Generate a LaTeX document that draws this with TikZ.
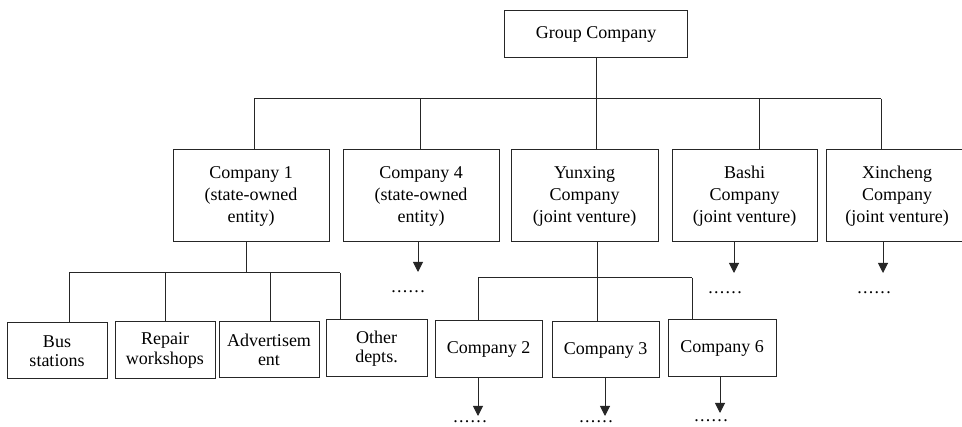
\documentclass[tikz,border=0pt]{standalone}
\usepackage{fontspec}
\setmainfont{Liberation Serif}
\usetikzlibrary{arrows.meta, positioning}

\newcommand{\sixdots}{.\kern1.3pt.\kern1.3pt.\kern1.3pt.\kern1.3pt.\kern1.3pt.}

\begin{document}
\begin{tikzpicture}[x=1pt, y=-1pt, line width=1pt, draw=black!85,
  unit/.style={rectangle, draw, inner sep=2pt, align=center, font=\fontsize{18}{22}\selectfont},
  small/.style={unit, font=\fontsize{18}{19.5}\selectfont},
  more/.style={inner sep=0pt, font=\fontsize{18}{22}\selectfont},
  down/.style={-{Triangle[width=10pt, length=10pt]}}]

\useasboundingbox (0,0) rectangle (962,427);

% top
\node[unit, minimum width=183pt, minimum height=47pt] (grp) at (596,34.5) {Group Company};

% second level
\node[unit, minimum width=156pt, minimum height=92pt] (c1) at (251,196) {Company 1\\(state-owned\\entity)};
\node[unit, minimum width=156pt, minimum height=92pt] (c4) at (421,196) {Company 4\\(state-owned\\entity)};
\node[unit, minimum width=147pt, minimum height=92pt] (yx) at (584.5,196) {Yunxing\\Company\\(joint venture)};
\node[unit, minimum width=145pt, minimum height=92pt] (bs) at (744.5,196) {Bashi\\Company\\(joint venture)};
\node[unit, minimum width=142pt, minimum height=92pt] (xc) at (897,196) {Xincheng\\Company\\(joint venture)};

% third level
\node[small, minimum width=100pt, minimum height=56pt] (bus) at (57,351) {Bus\\stations};
\node[small, minimum width=100pt, minimum height=57pt] (rep) at (165,350.5) {Repair\\workshops};
\node[small, minimum width=100pt, minimum height=56pt] (adv) at (269,350) {Advertisem\\ent};
\node[small, minimum width=101pt, minimum height=57pt] (oth) at (376.5,348.5) {Other\\depts.};
\node[small, minimum width=107pt, minimum height=57pt] (c2) at (488.5,349.5) {Company 2};
\node[small, minimum width=107pt, minimum height=56pt] (c3) at (605.5,350) {Company 3};
\node[small, minimum width=108pt, minimum height=57pt] (c6) at (722,348.5) {Company 6};

% dots
\node[more] (d4) at (408,292) {\sixdots};
\node[more] (db) at (725,293) {\sixdots};
\node[more] (dx) at (874,293) {\sixdots};
\node[more] (d2) at (470,422) {\sixdots};
\node[more] (d3) at (596,422) {\sixdots};
\node[more] (d6) at (711,421) {\sixdots};

% joints
\coordinate (j1) at (254,99);
\coordinate (j2) at (420,99);
\coordinate (j3) at (596,99);
\coordinate (j4) at (759,99);
\coordinate (j5) at (881,99);

\coordinate (k0) at (246,273);
\coordinate (k1) at (69,273);
\coordinate (k2) at (165,273);
\coordinate (k3) at (270,273);
\coordinate (k4) at (340,273);

\coordinate (m0) at (597,278);
\coordinate (m1) at (478,278);
\coordinate (m3) at (692,278);

\coordinate (a4) at (418,272);
\coordinate (ab) at (734,273);
\coordinate (ax) at (883,273);
\coordinate (a2) at (478,416);
\coordinate (a3) at (605,416);
\coordinate (a6) at (720,413);

\draw (grp.south) -- (j3);
\draw (j1) -- (j5);
\foreach \j/\n in {j1/c1, j2/c4, j3/yx, j4/bs, j5/xc}
  \draw (\j) -- (\j |- \n.north);

\draw (k0 |- c1.south) -- (k0);
\draw (k1) -- (k4);
\foreach \k/\n in {k1/bus, k2/rep, k3/adv, k4/oth}
  \draw (\k) -- (\k |- \n.north);

\draw (m0 |- yx.south) -- (m0 |- c3.north);
\draw (m1) -- (m3);
\foreach \m/\n in {m1/c2, m3/c6}
  \draw (\m) -- (\m |- \n.north);

\foreach \a/\n in {a4/c4, ab/bs, ax/xc, a2/c2, a3/c3, a6/c6}
  \draw[down] (\a |- \n.south) -- (\a);

\end{tikzpicture}
\end{document}
